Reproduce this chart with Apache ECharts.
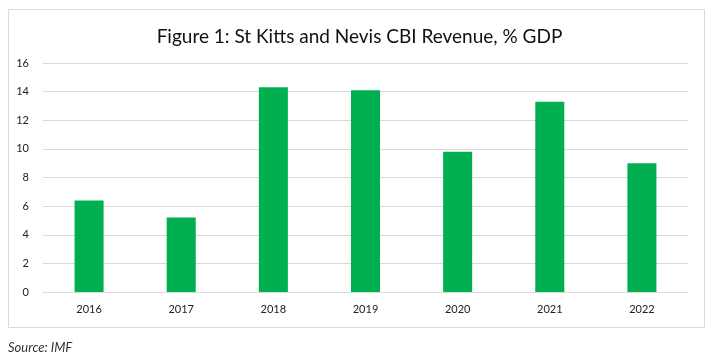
<!DOCTYPE html>
<html><head><meta charset="utf-8">
<script src="https://cdn.jsdelivr.net/npm/echarts@6/dist/echarts.min.js"></script>
<style>html,body{margin:0;padding:0;background:#fff}#c{width:719px;height:361px}</style>
</head><body><div id="c"></div>
<script>
const categories = ['2016','2017','2018','2019','2020','2021','2022'];
const values = [6.4, 5.2, 14.3, 14.1, 9.8, 13.3, 9.0];
const yTicks = [0, 2, 4, 6, 8, 10, 12, 14, 16];
const chart = echarts.init(document.getElementById('c'));
const font = 'Lato, "Open Sans", sans-serif';
chart.setOption({
  animation: false,
  title: {text: 'Figure 1: St Kitts and Nevis CBI Revenue, % GDP', left: 'center', top: 22,
    textStyle: {fontFamily: font, fontSize: 19, fontWeight: 'normal', color: '#111'}},
  grid: {left: 43, right: 31, top: 63, bottom: 69},
  xAxis: {type: 'category', data: categories,
    axisLine: {show: true, lineStyle: {color: '#d9d9d9'}}, axisTick: {show: false},
    axisLabel: {fontFamily: font, fontSize: 11, color: '#222', margin: 12}},
  yAxis: {type: 'value', min: yTicks[0], max: yTicks[yTicks.length-1], interval: 2,
    axisLine: {show: false}, axisTick: {show: false},
    axisLabel: {fontFamily: font, fontSize: 11, color: '#222', margin: 14},
    splitLine: {lineStyle: {color: '#d9d9d9'}}},
  series: [{type: 'bar', data: values, barWidth: '31.5%', itemStyle: {color: '#00B050'}}],
  graphic: [
    {type: 'rect', shape: {x: 8.5, y: 9.5, width: 696, height: 318}, style: {fill: null, stroke: '#d9d9d9', lineWidth: 1}, z: -1},
    {type: 'text', left: 8, top: 341, style: {text: 'Source: IMF', fontFamily: font, fontSize: 13, fontStyle: 'italic', fill: '#333'}}
  ]
});
</script></body></html>
